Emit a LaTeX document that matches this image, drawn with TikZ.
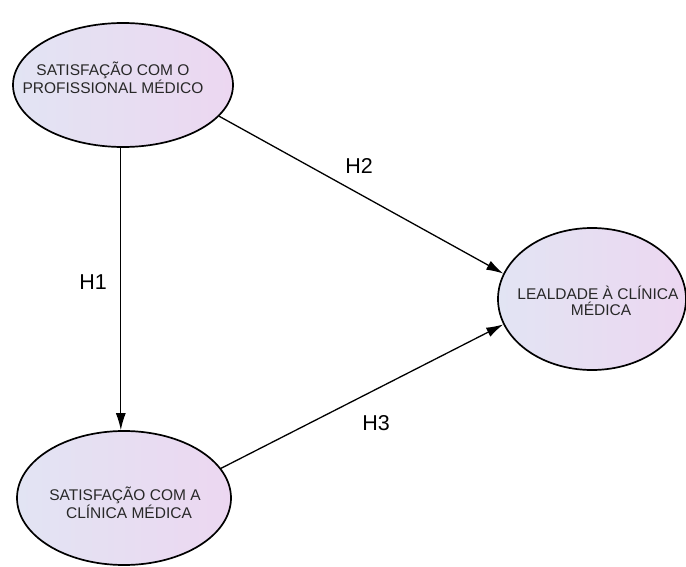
\documentclass[tikz,border=0pt]{standalone}
\usepackage{fontspec}
\setmainfont{Liberation Sans}
\usetikzlibrary{shapes.geometric,arrows.meta}
\definecolor{ellL}{RGB}{226,228,243}
\definecolor{ellR}{RGB}{236,215,241}
\definecolor{txt}{RGB}{40,40,40}
\tikzset{
  construct/.style={ellipse, draw=black, line width=1.7pt, left color=ellL, right color=ellR, inner sep=0pt},
  ctext/.style={align=center, text=txt, font=\fontsize{15.5}{16.5}\selectfont},
  hyp/.style={-{Latex[length=17pt,width=10pt]}, line width=1.3pt},
  hlabel/.style={font=\fontsize{21.5}{23}\selectfont, text=black}
}
\begin{document}
\begin{tikzpicture}[x=1pt,y=-1pt]
\useasboundingbox (0,0) rectangle (686,567);
\node[construct, minimum width=220pt, minimum height=124pt] (e1) at (123,85) {};
\node[construct, minimum width=188pt, minimum height=142pt] (e2) at (592,299) {};
\node[construct, minimum width=214pt, minimum height=134pt] (e3) at (124,498) {};
\node[ctext] (t1) at (113,78) {SATISFAÇÃO COM O\\PROFISSIONAL MÉDICO};
\node[ctext] (t2) at (598,301) {LEALDADE À CLÍNICA\\\hspace*{6pt}MÉDICA};
\node[ctext] (t3) at (125,503) {SATISFAÇÃO COM A\\\hspace*{8pt}CLÍNICA MÉDICA};
\draw[hyp] (e1.-92) -- (e1.-92 |- e3.north) coordinate (h1end);
\draw[hyp] (e1.-18) -- (e2.164);
\draw[hyp] (e3.17) -- (e2.-164);
\node[hlabel] (l1) at (93,282) {H1};
\node[hlabel] (l2) at (359,166) {H2};
\node[hlabel] (l3) at (376,423) {H3};
\end{tikzpicture}
\end{document}
